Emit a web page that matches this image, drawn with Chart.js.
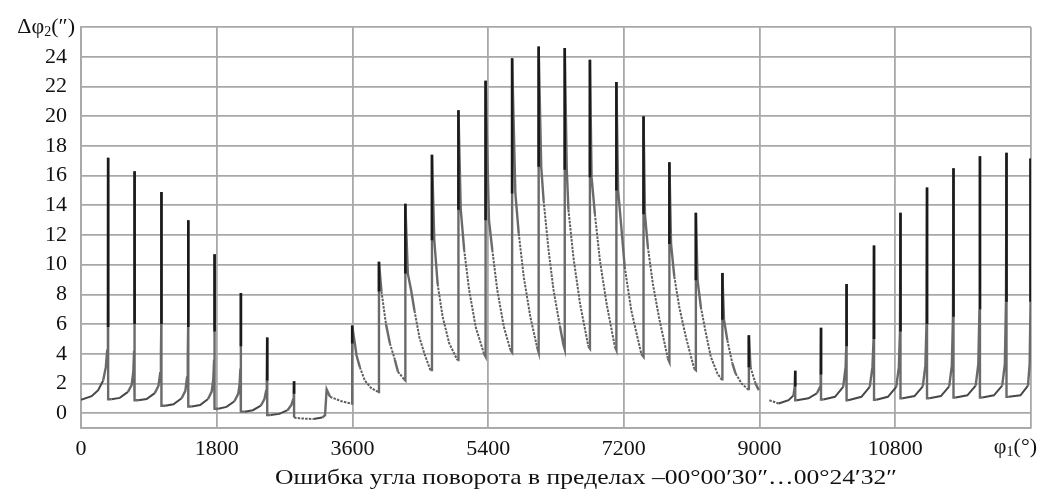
<!DOCTYPE html>
<html>
<head>
<meta charset="utf-8">
<script src="https://cdn.jsdelivr.net/npm/chart.js@4.4.1/dist/chart.umd.min.js"></script>
<style>
  html, body { margin: 0; padding: 0; background: #fff; }
  #wrap { width: 1039px; height: 491px; position: relative; }
</style>
</head>
<body>
<div id="wrap"><canvas id="myChart"></canvas></div>
<script>
// part before the gap near 9000 (phi1 in degrees, dphi2 in arc seconds)
const phiA = [
  0, 141, 228, 294, 329, 347, 357, 360, 360,
  404, 514, 623, 672, 694, 704, 709, 711, 711,
  760, 870, 979, 1028, 1050, 1060, 1065, 1067, 1067,
  1116, 1226, 1335, 1384, 1406, 1416, 1421, 1423, 1423,
  1470, 1580, 1685, 1733, 1755, 1765, 1770, 1772, 1772,
  1820, 1930, 2035, 2085, 2103, 2114, 2119, 2121, 2121,
  2168, 2280, 2385, 2433, 2455, 2464, 2470, 2470,
  2515, 2630, 2740, 2790, 2812, 2822, 2826, 2826,
  2900, 3083, 3200, 3237, 3258,
  3303, 3456, 3580,
  3597, 3597, 3632, 3654, 3698, 3764, 3847, 3939,
  3952, 3952, 3985, 4045, 4097, 4163, 4203, 4282,
  4302, 4302, 4335, 4378, 4423, 4489, 4555, 4634,
  4655, 4655, 4686, 4730, 4796, 4884, 4993,
  5006, 5006, 5037, 5082, 5148, 5235, 5345,
  5366, 5366, 5411, 5455, 5521, 5609, 5696,
  5718, 5718, 5761, 5806, 5872, 5959, 6047,
  6070, 6070, 6104, 6136, 6201, 6267, 6354, 6399,
  6416, 6416, 6443, 6465, 6531, 6618, 6729,
  6750, 6750, 6772, 6816, 6882, 6970, 7080,
  7101, 7101, 7124, 7167, 7211, 7299, 7431,
  7461, 7461, 7480, 7518, 7585, 7672, 7783,
  7804, 7804, 7826, 7869, 7935, 8024, 8133,
  8155, 8155, 8178, 8221, 8287, 8353, 8441,
  8507, 8507, 8528, 8573, 8639, 8682, 8761,
  8858, 8858, 8880, 8946, 8990
];
const dphiA = [
  0.9, 1.14, 1.55, 2.2, 3.1, 4.2, 5.8, 17.2, 0.94,
  0.94, 1.03, 1.43, 1.9, 2.8, 4.2, 6.0, 16.3, 0.87,
  0.87, 0.95, 1.35, 1.85, 2.7, 4.0, 6.0, 14.9, 0.5,
  0.5, 0.6, 1.0, 1.5, 2.4, 3.8, 5.8, 13.0, 0.45,
  0.45, 0.55, 0.95, 1.45, 2.3, 3.6, 5.5, 10.7, 0.3,
  0.3, 0.42, 0.8, 1.3, 1.9, 3.0, 4.5, 8.1, 0.1,
  0.1, 0.2, 0.5, 0.95, 1.5, 2.2, 5.1, -0.13,
  -0.13, -0.05, 0.2, 0.55, 0.9, 1.3, 2.15, -0.3,
  -0.35, -0.4, -0.3, -0.13, 1.6,
  1.1, 0.8, 0.65,
  0.65, 5.9, 4.7, 3.9, 3.1, 2.2, 1.7, 1.43,
  1.43, 10.2, 8.2, 6.0, 4.7, 3.6, 2.8, 2.3,
  2.2, 14.1, 9.4, 8.3, 6.9, 5.1, 4.0, 2.9,
  2.9, 17.4, 11.65, 8.7, 6.5, 4.7, 3.57,
  3.57, 20.4, 13.7, 11.0, 8.3, 5.8, 4.0,
  3.8, 22.4, 13.0, 11.0, 8.3, 5.8, 4.25,
  4.1, 23.9, 14.8, 12.1, 9.2, 6.5, 4.5,
  4.1, 24.7, 16.6, 14.3, 11.0, 8.3, 5.8, 4.6,
  4.3, 24.6, 16.4, 13.7, 10.5, 7.4, 4.5,
  4.35, 23.8, 15.9, 13.4, 10.3, 7.4, 4.5,
  4.25, 22.3, 15.0, 12.5, 9.85, 6.9, 4.0,
  3.8, 20.0, 13.4, 11.2, 8.7, 6.3, 3.7,
  3.45, 16.9, 11.4, 9.2, 7.15, 5.1, 3.0,
  2.9, 13.5, 8.95, 7.15, 5.4, 3.8, 2.67,
  2.2, 9.45, 6.3, 4.9, 3.35, 2.67, 2.0,
  1.55, 5.25, 3.1, 2.0, 1.55
];
// part after the gap
const phiB = [
  9130, 9253, 9385, 9450, 9466, 9473, 9473,
  9495, 9648, 9759, 9802, 9810, 9815, 9815,
  9846, 10000, 10109, 10141, 10150, 10154, 10154,
  10175, 10351, 10461, 10497, 10512, 10518, 10518,
  10549, 10702, 10813, 10847, 10862, 10869, 10869,
  10900, 11055, 11165, 11199, 11214, 11221, 11221,
  11252, 11405, 11515, 11550, 11565, 11572, 11572,
  11603, 11756, 11866, 11901, 11916, 11923, 11923,
  11955, 12108, 12218, 12253, 12268, 12275, 12275,
  12306, 12460, 12560, 12582, 12594, 12594
];
const dphiB = [
  0.87, 0.65, 0.87, 1.2, 1.8, 2.85, 0.87,
  0.87, 1.0, 1.33, 1.77, 2.6, 5.75, 0.92,
  0.92, 1.1, 1.77, 3.1, 4.5, 8.7, 0.87,
  0.87, 1.1, 1.77, 3.1, 5.0, 11.3, 0.9,
  0.9, 1.1, 1.77, 3.1, 5.5, 13.5, 1.0,
  1.0, 1.15, 1.8, 3.2, 6.0, 15.2, 1.0,
  1.0, 1.15, 1.8, 3.2, 6.5, 16.5, 1.05,
  1.05, 1.2, 1.85, 3.3, 7.0, 17.3, 1.05,
  1.05, 1.2, 1.85, 3.3, 7.5, 17.55, 1.1,
  1.1, 1.2, 1.85, 3.3, 7.5, 17.15
];

const xTicks = [0, 1800, 3600, 5400, 7200, 9000, 10800, 12600];
const xHidden = [12600];
const yTicks = [-1, 0, 2, 4, 6, 8, 10, 12, 14, 16, 18, 20, 22, 24, 26];
const yHidden = [-1, 26];

const yTitle = ['Δφ', '2', '(″)'];
const xTitle = ['φ', '1', '(°)'];
const caption = 'Ошибка угла поворота в пределах –00°00′30″…00°24′32″';

const FONT = "'Liberation Serif', 'Times New Roman', serif";

function toPoints(xs, ys) {
  return xs.map((x, i) => ({ x: x, y: ys[i] }));
}

// upper, dark part of every spike: from the peak down to the neighbour
// that is not on the same angle
function spikeTops(xs, ys) {
  const out = [];
  for (let i = 0; i < xs.length; i++) {
    const prevSame = i > 0 && xs[i - 1] === xs[i];
    const nextSame = i < xs.length - 1 && xs[i + 1] === xs[i];
    if (!prevSame && !nextSame) continue;
    const partner = prevSame ? i - 1 : i + 1;
    if (ys[i] <= ys[partner]) continue;
    const other = prevSame ? i + 1 : i - 1;
    let low = ys[partner];
    if (other >= 0 && other < xs.length) low = Math.max(low, ys[other]);
    out.push({ x: xs[i], y: ys[i] }, { x: xs[i], y: low }, { x: xs[i], y: null });
  }
  return out;
}

function isFalling(ctx) {
  return ctx.p1.parsed.y < ctx.p0.parsed.y;
}
function isSteep(ctx) {
  return Math.abs(ctx.p1.x - ctx.p0.x) < 4;
}

const curveStyle = {
  borderColor: ctx => {
    if (isSteep(ctx)) return '#6a6a6a';
    return isFalling(ctx) ? '#5e5e5e' : '#474747';
  },
  borderDash: ctx => (!isSteep(ctx) && isFalling(ctx)) ? [2.5, 1.2] : undefined,
  borderWidth: ctx => isSteep(ctx) ? 2.4 : 2
};

// draws text with a lowered index, right aligned at x
function drawIndexed(ctx, parts, xRight, y, size) {
  const big = size + 'px ' + FONT;
  const small = Math.round(size * 0.65) + 'px ' + FONT;
  ctx.font = big;
  const w0 = ctx.measureText(parts[0]).width;
  const w2 = ctx.measureText(parts[2]).width;
  ctx.font = small;
  const w1 = ctx.measureText(parts[1]).width;
  let x = xRight - (w0 + w1 + w2);
  ctx.textAlign = 'left';
  ctx.font = big;
  ctx.fillText(parts[0], x, y);
  x += w0;
  ctx.font = small;
  ctx.fillText(parts[1], x, y + size * 0.25);
  x += w1;
  ctx.font = big;
  ctx.fillText(parts[2], x, y);
}

const extraText = {
  id: 'extraText',
  afterDraw(chart) {
    const ctx = chart.ctx;
    ctx.save();
    ctx.fillStyle = '#111';
    ctx.textBaseline = 'middle';
    drawIndexed(ctx, yTitle, 75, 27, 22);
    drawIndexed(ctx, xTitle, 1037, 447, 22);

    // caption under the axis, stretched a little like the scan
    ctx.font = '22px ' + FONT;
    const w = ctx.measureText(caption).width;
    const sx = 622 / w;
    ctx.translate(586, 478);
    ctx.scale(sx, 1);
    ctx.textAlign = 'center';
    ctx.fillText(caption, 0, 0);
    ctx.restore();
  }
};

const gridColor = '#a8a8a8';

new Chart(document.getElementById('myChart'), {
  type: 'line',
  data: {
    datasets: [
      { data: toPoints(phiA, dphiA), segment: curveStyle, order: 2 },
      { data: toPoints(phiB, dphiB), segment: curveStyle, order: 2 },
      { data: spikeTops(phiA, dphiA), borderColor: '#1a1a1a', borderWidth: 2.6, order: 1 },
      { data: spikeTops(phiB, dphiB), borderColor: '#1a1a1a', borderWidth: 2.6, order: 1 }
    ]
  },
  options: {
    responsive: true,
    maintainAspectRatio: false,
    animation: false,
    devicePixelRatio: 1,
    layout: { padding: { top: 25, right: 2, left: 0, bottom: 0 } },
    elements: {
      point: { radius: 0, hoverRadius: 0 },
      line: { borderColor: '#474747', borderWidth: 2, tension: 0 }
    },
    plugins: {
      legend: { display: false },
      tooltip: { enabled: false }
    },
    scales: {
      x: {
        type: 'linear',
        min: 0,
        max: 12600,
        afterBuildTicks: scale => { scale.ticks = xTicks.map(v => ({ value: v })); },
        afterFit: scale => { scale.height = 63; },
        grid: { color: gridColor, lineWidth: 1.8, drawTicks: false },
        border: { color: gridColor, width: 1.8 },
        ticks: {
          padding: 8,
          color: '#111',
          font: { family: FONT, size: 22 },
          maxRotation: 0,
          autoSkip: false,
          callback: v => xHidden.includes(v) ? '' : String(v)
        }
      },
      y: {
        min: -1,
        max: 26,
        afterBuildTicks: scale => { scale.ticks = yTicks.map(v => ({ value: v })); },
        afterFit: scale => { scale.width = 81; },
        grid: { color: gridColor, lineWidth: 1.8, drawTicks: false },
        border: { color: gridColor, width: 1.8 },
        ticks: {
          padding: 14,
          color: '#111',
          font: { family: FONT, size: 22 },
          autoSkip: false,
          callback: v => yHidden.includes(v) ? '' : String(v)
        }
      }
    }
  },
  plugins: [extraText]
});
</script>
</body>
</html>
